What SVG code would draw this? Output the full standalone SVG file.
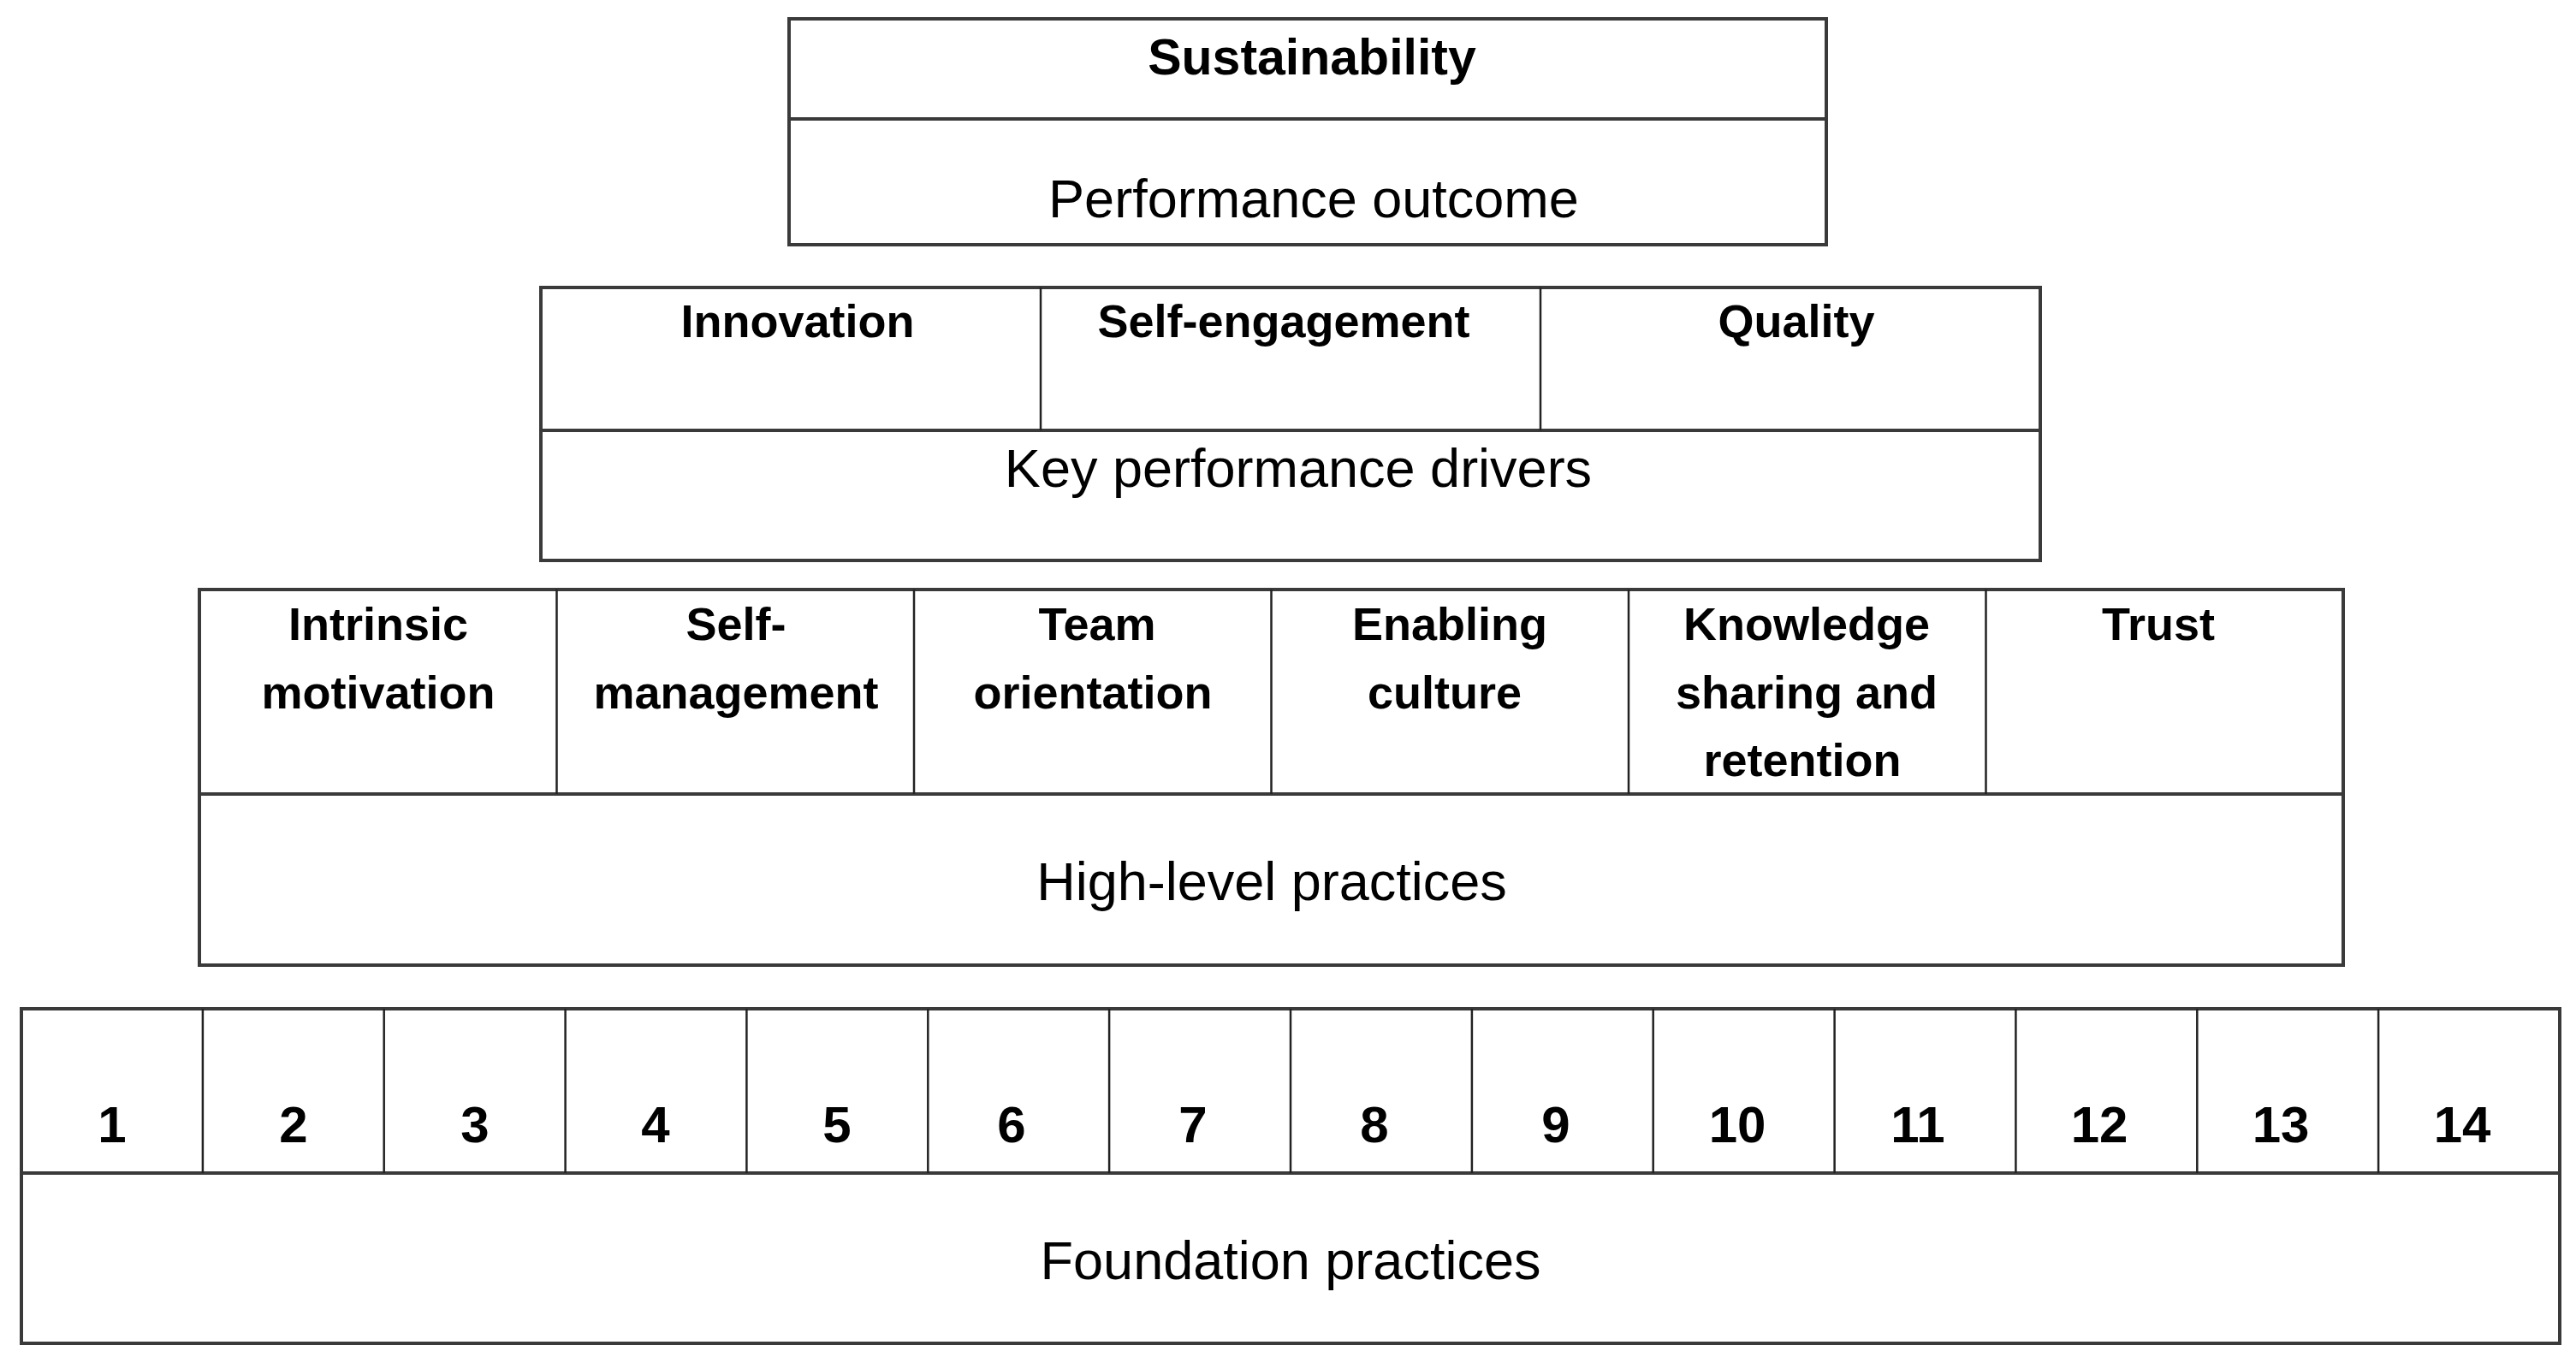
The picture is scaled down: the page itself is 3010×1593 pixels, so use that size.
<svg xmlns="http://www.w3.org/2000/svg" width="3010" height="1593" viewBox="0 0 3010 1593">
<style>
.box{fill:#fff;stroke:#3a3a3a;stroke-width:4}
.hl{stroke:#3a3a3a;stroke-width:4;fill:none}
.vl{stroke:#222;stroke-width:2.5;fill:none}
.b{font-family:"Liberation Sans",Arial,sans-serif;font-weight:bold;font-size:54px;fill:#000;text-anchor:middle}
.r{font-family:"Liberation Sans",Arial,sans-serif;font-size:63px;fill:#000;text-anchor:middle}
.n{font-family:"Liberation Sans",Arial,sans-serif;font-weight:bold;font-size:60px;fill:#000;text-anchor:middle}
</style>
<rect width="3010" height="1593" fill="#fff"/>
<g id="performance-outcome">
<rect class="box" x="922" y="22" width="1212" height="264"/>
<line class="hl" x1="922" y1="139" x2="2134" y2="139"/>
<text class="b" x="1533" y="87" style="font-size:59px">Sustainability</text>
<text class="r" x="1535" y="254">Performance outcome</text>
</g>
<g id="key-performance-drivers">
<rect class="box" x="632" y="336" width="1752" height="319"/>
<line class="hl" x1="632" y1="503" x2="2384" y2="503"/>
<line class="vl" x1="1216" y1="336" x2="1216" y2="503"/>
<line class="vl" x1="1800" y1="336" x2="1800" y2="503"/>
<text class="b" x="932" y="394">Innovation</text>
<text class="b" x="1500" y="394">Self-engagement</text>
<text class="b" x="2099" y="394">Quality</text>
<text class="r" x="1517" y="569">Key performance drivers</text>
</g>
<g id="high-level-practices">
<rect class="box" x="233" y="689" width="2505" height="439"/>
<line class="hl" x1="233" y1="928" x2="2738" y2="928"/>
<line class="vl" x1="650.5" y1="689" x2="650.5" y2="928"/>
<line class="vl" x1="1068" y1="689" x2="1068" y2="928"/>
<line class="vl" x1="1485.5" y1="689" x2="1485.5" y2="928"/>
<line class="vl" x1="1903" y1="689" x2="1903" y2="928"/>
<line class="vl" x1="2320.5" y1="689" x2="2320.5" y2="928"/>
<text class="b" x="442" y="748">Intrinsic</text>
<text class="b" x="442" y="828">motivation</text>
<text class="b" x="860" y="748">Self-</text>
<text class="b" x="860" y="828">management</text>
<text class="b" x="1282" y="748">Team</text>
<text class="b" x="1277" y="828">orientation</text>
<text class="b" x="1694" y="748">Enabling</text>
<text class="b" x="1688" y="828">culture</text>
<text class="b" x="2111" y="748">Knowledge</text>
<text class="b" x="2111" y="828">sharing and</text>
<text class="b" x="2106" y="907">retention</text>
<text class="b" x="2522" y="748">Trust</text>
<text class="r" x="1486" y="1052">High-level practices</text>
</g>
<g id="foundation-practices">
<rect class="box" x="25" y="1179" width="2966" height="391"/>
<line class="hl" x1="25" y1="1371" x2="2991" y2="1371"/>
<line class="vl" x1="236.9" y1="1179" x2="236.9" y2="1371"/>
<line class="vl" x1="448.7" y1="1179" x2="448.7" y2="1371"/>
<line class="vl" x1="660.6" y1="1179" x2="660.6" y2="1371"/>
<line class="vl" x1="872.4" y1="1179" x2="872.4" y2="1371"/>
<line class="vl" x1="1084.3" y1="1179" x2="1084.3" y2="1371"/>
<line class="vl" x1="1296.1" y1="1179" x2="1296.1" y2="1371"/>
<line class="vl" x1="1508" y1="1179" x2="1508" y2="1371"/>
<line class="vl" x1="1719.9" y1="1179" x2="1719.9" y2="1371"/>
<line class="vl" x1="1931.7" y1="1179" x2="1931.7" y2="1371"/>
<line class="vl" x1="2143.6" y1="1179" x2="2143.6" y2="1371"/>
<line class="vl" x1="2355.4" y1="1179" x2="2355.4" y2="1371"/>
<line class="vl" x1="2567.3" y1="1179" x2="2567.3" y2="1371"/>
<line class="vl" x1="2779.1" y1="1179" x2="2779.1" y2="1371"/>
<text class="n" x="131" y="1335">1</text>
<text class="n" x="343" y="1335">2</text>
<text class="n" x="555" y="1335">3</text>
<text class="n" x="766" y="1335">4</text>
<text class="n" x="978" y="1335">5</text>
<text class="n" x="1182" y="1335">6</text>
<text class="n" x="1394" y="1335">7</text>
<text class="n" x="1606" y="1335">8</text>
<text class="n" x="1818" y="1335">9</text>
<text class="n" x="2030" y="1335">10</text>
<text class="n" x="2241" y="1335">11</text>
<text class="n" x="2453" y="1335">12</text>
<text class="n" x="2665" y="1335">13</text>
<text class="n" x="2877" y="1335">14</text>
<text class="r" x="1508" y="1495">Foundation practices</text>
</g>
<g id="connectors"/>
</svg>
